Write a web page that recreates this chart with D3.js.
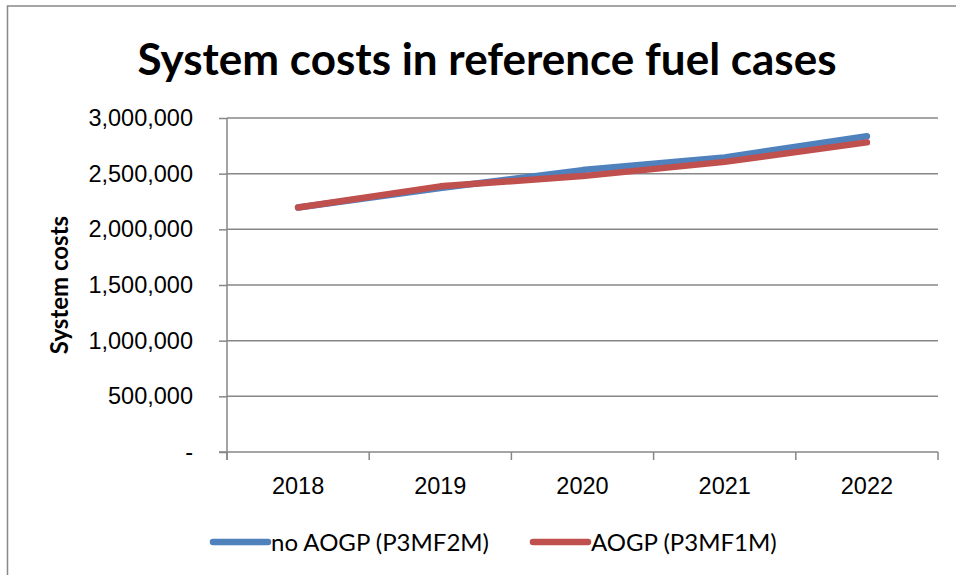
<!DOCTYPE html>
<html>
<head>
<meta charset="utf-8">
<script src="https://cdn.jsdelivr.net/npm/d3@7"></script>
<style>
  html, body { margin: 0; padding: 0; background: #fff; }
  svg { display: block; font-family: Lato, "Open Sans", sans-serif; }
</style>
</head>
<body>
<div id="chart"></div>
<script>
// data
const years = ["2018", "2019", "2020", "2021", "2022"];
const noAogp = [2196000, 2372000, 2532000, 2646000, 2836000];
const aogp = [2196000, 2386000, 2478000, 2606000, 2781000];
const seriesNames = ["no AOGP (P3MF2M)", "AOGP (P3MF1M)"];
const yTicks = [0, 500000, 1000000, 1500000, 2000000, 2500000, 3000000];

const width = 956, height = 575;
const margin = {top: 118, right: 18, bottom: 123, left: 227};
const colors = ["#4f81bd", "#c0504d"];
const gridColor = "#878787";
const labelSize = "23.5px";

const svg = d3.select("#chart").append("svg")
  .attr("width", width)
  .attr("height", height);

// outer chart frame (only top and left edges fall inside the picture)
svg.append("rect")
  .attr("x", 7.5).attr("y", 6)
  .attr("width", width + 20).attr("height", height + 20)
  .attr("fill", "#fff")
  .attr("stroke", "#888")
  .attr("stroke-width", 1.5);

const x = d3.scaleBand()
  .domain(years)
  .range([margin.left, width - margin.right]);

const y = d3.scaleLinear()
  .domain([0, 3000000])
  .range([height - margin.bottom, margin.top]);

// gridlines
svg.append("g")
  .selectAll("line")
  .data(yTicks.filter(d => d > 0))
  .enter().append("line")
  .attr("x1", margin.left).attr("x2", width - margin.right)
  .attr("y1", d => y(d)).attr("y2", d => y(d))
  .attr("stroke", gridColor)
  .attr("stroke-width", 1.5);

// y axis
const yAxis = svg.append("g")
  .attr("transform", `translate(${margin.left},0)`)
  .call(d3.axisLeft(y)
    .tickValues(yTicks)
    .tickSize(8)
    .tickPadding(26)
    .tickFormat(d => d === 0 ? "-" : d3.format(",")(d)));

// x axis
const xAxis = svg.append("g")
  .attr("transform", `translate(0,${y(0)})`)
  .call(d3.axisBottom(x).tickSize(0).tickPadding(25));

// x ticks at category boundaries
svg.append("g")
  .selectAll("line")
  .data(years.concat(["end"]))
  .enter().append("line")
  .attr("x1", (d, i) => margin.left + i * x.step())
  .attr("x2", (d, i) => margin.left + i * x.step())
  .attr("y1", y(0)).attr("y2", y(0) + 8)
  .attr("stroke", gridColor)
  .attr("stroke-width", 1.5);

[yAxis, xAxis].forEach(g => {
  g.select(".domain").attr("stroke", gridColor).attr("stroke-width", 1.5);
  g.selectAll(".tick line").attr("stroke", gridColor).attr("stroke-width", 1.5);
  g.selectAll(".tick text")
    .attr("fill", "#000")
    .style("font-size", labelSize);
});
xAxis.select(".domain").attr("d", `M${margin.left - 8},0H${width - margin.right}`);
yAxis.select(".domain").attr("d", `M0,${y(3000000)}V${y(0) + 8}`);

// lines
const line = d3.line()
  .x((d, i) => x(years[i]) + x.bandwidth() / 2)
  .y(d => y(d));

[noAogp, aogp].forEach((vals, i) => {
  svg.append("path")
    .datum(vals)
    .attr("d", line)
    .attr("fill", "none")
    .attr("stroke", colors[i])
    .attr("stroke-width", 6.5)
    .attr("stroke-linecap", "round")
    .attr("stroke-linejoin", "round");
});

// title
svg.append("text")
  .attr("x", 487)
  .attr("y", 75)
  .attr("text-anchor", "middle")
  .style("font-size", "44px")
  .style("font-weight", "bold")
  .text("System costs in reference fuel cases");

// y axis title
svg.append("text")
  .attr("transform", "translate(68,285) rotate(-90)")
  .attr("text-anchor", "middle")
  .style("font-size", "24px")
  .style("font-weight", "bold")
  .text("System costs");

// legend
const legendX = [213, 533];
seriesNames.forEach((name, i) => {
  const g = svg.append("g").attr("transform", `translate(${legendX[i]},542)`);
  g.append("line")
    .attr("x1", 0).attr("x2", 55)
    .attr("y1", 0).attr("y2", 0)
    .attr("stroke", colors[i])
    .attr("stroke-width", 6.5)
    .attr("stroke-linecap", "round");
  g.append("text")
    .attr("x", 58)
    .attr("y", 9)
    .style("font-size", "24px")
    .text(name);
});
</script>
</body>
</html>
